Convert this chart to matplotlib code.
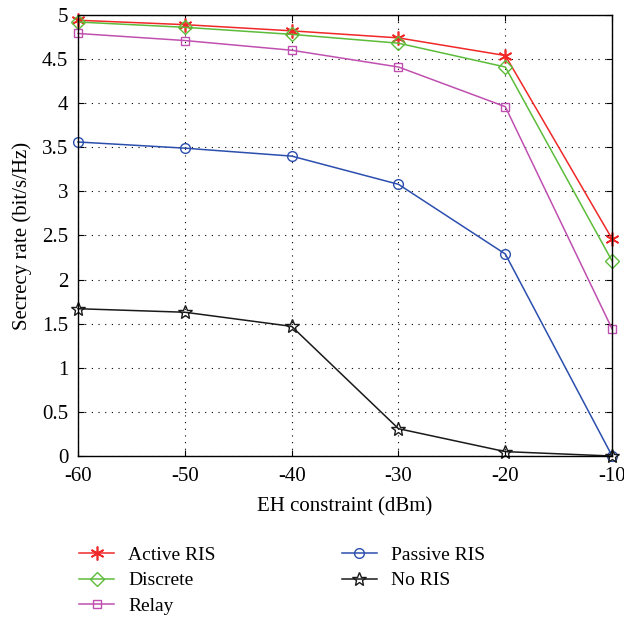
import matplotlib
matplotlib.use("Agg")
import matplotlib.pyplot as plt

plt.rcParams["font.family"] = ["Liberation Serif", "DejaVu Serif"]

# ----------
eh_dbm = [-60, -50, -40, -30, -20, -10]

active_ris = [4.94, 4.89, 4.82, 4.74, 4.54, 2.46]
discrete = [4.92, 4.86, 4.78, 4.68, 4.41, 2.21]
relay = [4.79, 4.71, 4.60, 4.41, 3.96, 1.44]
passive_ris = [3.56, 3.49, 3.40, 3.08, 2.29, 0.0]
no_ris = [1.67, 1.63, 1.47, 0.31, 0.05, 0.0]

x_ticks = [-60, -50, -40, -30, -20, -10]
y_ticks = [0, 0.5, 1, 1.5, 2, 2.5, 3, 3.5, 4, 4.5, 5]
y_tick_labels = ["0", "0.5", "1", "1.5", "2", "2.5", "3", "3.5", "4", "4.5", "5"]

fig = plt.figure(figsize=(6.24, 6.23), dpi=100)
ax = fig.add_axes([0.125, 0.268, 0.856, 0.708])

ax.plot(eh_dbm, active_ris, color="#f02828", marker=(6, 2, 0), markersize=10,
        markeredgewidth=1.2, linewidth=1.1, label="Active RIS", clip_on=False)
ax.plot(eh_dbm, discrete, color="#5cbc3a", marker="D", markersize=7,
        markerfacecolor="none", linewidth=1.1, label="Discrete", clip_on=False)
ax.plot(eh_dbm, relay, color="#c050b0", marker="s", markersize=6,
        markerfacecolor="none", linewidth=1.1, label="Relay", clip_on=False)
ax.plot(eh_dbm, passive_ris, color="#2c4fae", marker="o", markersize=7,
        markerfacecolor="none", linewidth=1.1, label="Passive RIS",
        clip_on=False)
ax.plot(eh_dbm, no_ris, color="#1a1a1a", marker="*", markersize=10,
        markerfacecolor="none", linewidth=1.1, label="No RIS", clip_on=False)

ax.set_xlim(-60, -10)
ax.set_ylim(0, 5)
ax.set_xticks(x_ticks)
ax.set_xticklabels([str(t) for t in x_ticks])
ax.set_yticks(y_ticks)
ax.set_yticklabels(y_tick_labels)
ax.tick_params(direction="in", top=True, right=True, labelsize=15, length=4)
ax.tick_params(axis="x", pad=8)
ax.tick_params(axis="y", pad=7)
ax.grid(True, linestyle=(0, (1, 5)), color="black", linewidth=0.8)

for sp in ax.spines.values():
    sp.set_linewidth(1.0)

ax.set_xlabel("EH constraint (dBm)", fontsize=15, labelpad=8)
ax.set_ylabel("Secrecy rate (bit/s/Hz)", fontsize=15, labelpad=7)

ax.legend(loc="upper left", bbox_to_anchor=(-0.03, -0.165), ncol=2,
          frameon=False, fontsize=14, handlelength=1.8, handletextpad=0.7,
          columnspacing=6.5, labelspacing=0.4)

fig.savefig("out.png", dpi=100)
